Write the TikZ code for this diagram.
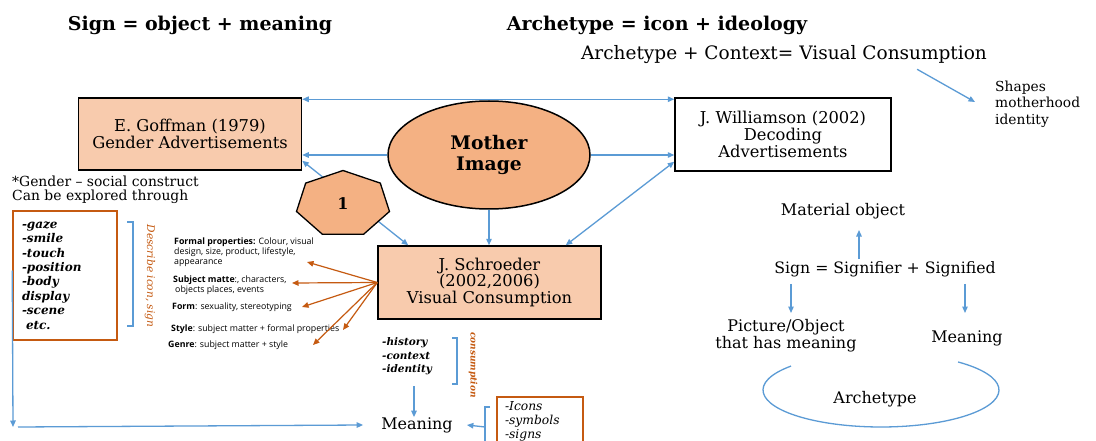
\documentclass[tikz,border=0pt]{standalone}
\usepackage{fontspec}
\setmainfont{DejaVu Serif}
\newfontfamily\notesans{Open Sans}
\usetikzlibrary{arrows.meta,calc,shapes.geometric}
\definecolor{linkblue}{RGB}{91,155,213}
\definecolor{burnt}{RGB}{197,90,17}
\definecolor{peach}{RGB}{248,203,173}
\definecolor{apricot}{RGB}{244,177,131}
\tikzset{
  txt/.style={inner sep=0pt, align=center},
  boxed/.style={draw=black, line width=1.5pt, inner sep=0pt, align=center,
    font=\fontsize{16.3}{16.7}\selectfont},
  barrow/.style={draw=linkblue, line width=1.3pt, -{Triangle[length=6.5pt,width=5.5pt]}},
  barrows/.style={draw=linkblue, line width=1.3pt,
    {Triangle[length=6.5pt,width=5.5pt]}-{Triangle[length=6.5pt,width=5.5pt]}},
  oarrow/.style={draw=burnt, line width=1.2pt, -{Triangle[length=6.5pt,width=5.5pt]}},
  bracketline/.style={draw=linkblue, line width=1.3pt},
  note/.style={inner sep=0pt, align=left, anchor=west,
    font=\notesans\fontsize{8.8}{10}\selectfont},
  plain/.style={inner sep=0pt, align=center, font=\fontsize{16}{17}\selectfont},
}
\begin{document}
\begin{tikzpicture}[x=1pt,y=1pt]
\fill[white] (0,0) rectangle (1096,-441);
\useasboundingbox (0,0) rectangle (1096,-441);

% headings
\node[txt, font=\bfseries\fontsize{19}{22}\selectfont] (title1) at (200,-25) {Sign = object + meaning};
\node[txt, font=\bfseries\fontsize{19}{22}\selectfont] (title2) at (657,-25) {Archetype = icon + ideology};
\node[txt, font=\fontsize{18.5}{22}\selectfont] (formula) at (784,-55) {Archetype + Context= Visual Consumption};
\node[plain, anchor=west, align=left, font=\fontsize{13.8}{16.5}\selectfont] (shapes) at (995,-104) {Shapes\\motherhood\\identity};
\draw[barrow] ([xshift=-70pt,yshift=-5pt]formula.south east) -- ([xshift=-20pt,yshift=2pt]shapes.west);

% main boxes
\node[boxed, fill=peach, minimum width=223pt, minimum height=72pt] (goffman) at (190,-134)
  {E. Goffman (1979)\\Gender Advertisements};
\node[boxed, fill=white, minimum width=216pt, minimum height=73pt] (williamson) at (783,-134.5)
  {J. Williamson (2002)\\Decoding\\Advertisements};
\node[draw=black, line width=1.5pt, ellipse, fill=apricot, minimum width=202pt, minimum height=108pt,
  inner sep=0pt, align=center, font=\bfseries\fontsize{18.7}{21}\selectfont] (mother) at (489,-155) {Mother\\Image};
\node[boxed, fill=peach, minimum width=223pt, minimum height=73pt] (schroeder) at (489.5,-282.5)
  {J. Schroeder\\(2002,2006)\\Visual Consumption};

% links between the boxes
\draw[barrows] ([yshift=-2pt]goffman.north east) -- ([yshift=-2pt]williamson.north west);
\draw[barrow] (mother.west) -- (mother.west -| goffman.east);
\draw[barrow] (mother.east) -- (mother.east -| williamson.west);
\draw[barrows] ([yshift=10pt]goffman.south east) -- ([xshift=31pt]schroeder.north west);
\draw[barrow] (mother.south) -- (mother.south |- schroeder.north);
\draw[barrows] ([yshift=10pt]williamson.south west) -- ([xshift=-36pt]schroeder.north east);

% heptagon marker
\coordinate (hc) at (343,-204);
\draw[fill=apricot, line width=1.3pt] ($(hc)+(90:47.7pt and 33.5pt)$)
  \foreach \k in {1,...,6} { -- ($(hc)+({90+\k*360/7}:47.7pt and 33.5pt)$) } -- cycle;
\node[txt, font=\bfseries\fontsize{16}{18}\selectfont] (hept) at (hc) {1};

% gender column
\node[txt, anchor=west, align=left, font=\fontsize{13.9}{14.5}\selectfont] (gender) at (12,-190)
  {*Gender -- social construct\\Can be explored through};
\node[draw=burnt, line width=1.5pt, text width=86pt, inner xsep=9pt, inner ysep=0pt,
  minimum height=129pt, align=left, font=\bfseries\itshape\fontsize{12}{14.4}\selectfont] (gaze) at (65,-275.5)
  {-gaze\\-smile\\-touch\\-position\\-body\\display\\-scene\\\hspace*{4pt}etc.};
\draw[bracketline] (127,-222) -- (133,-222) -- (133,-326) -- (127,-326);
\node[txt, rotate=-90, text=burnt, font=\itshape\fontsize{10.6}{12}\selectfont] (describe) at (150,-276) {Describe icon, sign};
\coordinate (corner) at (13,-427);
\draw[barrow] ([yshift=5pt]gaze.west) -- (corner);

% notes on visual consumption
\node[note] (formal) at (174,-252) {\textbf{Formal properties:} Colour, visual\\design, size, product, lifestyle,\\appearance};
\node[note] (subject) at (173,-285.5) {\textbf{Subject matte}:, characters,\\\hspace*{2pt}objects places, events};
\node[note] (form) at (172,-307) {\textbf{Form}: sexuality, stereotyping};
\node[note] (style) at (171,-329) {\textbf{Style}: subject matter + formal properties};
\node[note] (genre) at (168,-345) {\textbf{Genre}: subject matter + style};
\coordinate (t1) at (307,-262);
\coordinate (t2) at (292,-283);
\coordinate (t3) at (302,-307);
\coordinate (t4) at (343,-330);
\coordinate (t5) at (313,-345);
\foreach \t in {t1,t2,t3,t4,t5} \draw[oarrow] (schroeder.west) -- (\t);

% consumption and meaning
\node[txt, anchor=west, align=left, font=\bfseries\itshape\fontsize{10.5}{13.5}\selectfont] (hist) at (382,-356.5)
  {-history\\-context\\-identity};
\draw[bracketline] (452,-338) -- (457,-338) -- (457,-384) -- (452,-384);
\node[txt, rotate=-90, text=burnt, font=\bfseries\itshape\fontsize{9}{11}\selectfont] (consump) at (473,-365) {consumption};
\node[txt, font=\fontsize{16}{17}\selectfont] (meaning) at (417,-425) {Meaning};
\coordinate (histfoot) at (414,-386);
\draw[barrow] (histfoot) -- (histfoot |- meaning.north);
\draw[barrow] ([xshift=5pt]corner) -- ([xshift=-18pt]meaning.west);
\node[draw=burnt, line width=1.5pt, text width=70pt, inner xsep=8pt, inner ysep=0pt, minimum height=48pt,
  align=left, font=\itshape\fontsize{12.3}{14}\selectfont] (icons) at (540,-421) {-Icons\\-symbols\\-signs};
\draw[bracketline] (490,-407) -- (485,-407) -- (485,-441);
\coordinate (iconsbr) at (485,-427);
\draw[barrow] (iconsbr) -- ([xshift=14pt]meaning.east);

% sign model
\node[plain] (material) at (843,-211) {Material object};
\node[plain, font=\fontsize{15.7}{17}\selectfont] (sign) at (885,-269) {Sign = Signifier + Signified};
\node[plain] (picture) at (786,-335.5) {Picture/Object\\that has meaning};
\node[plain] (meaning2) at (967,-338) {Meaning};
\node[plain] (archetype) at (875,-399) {Archetype};
\draw[barrow] ([xshift=-26pt,yshift=2pt]sign.north) -- ([xshift=16pt]material.south |- 0,-230);
\draw[barrow] ([xshift=-94pt,yshift=-7pt]sign.south) -- ([xshift=-94pt]sign.south |- 0,-313);
\draw[barrow] ([xshift=80pt,yshift=-7pt]sign.south) -- ([xshift=80pt]sign.south |- 0,-313);
\coordinate (arcc) at (881,-390);
\draw[bracketline] ($(arcc)+(139.7:118pt and 37pt)$) arc[start angle=139.7, end angle=409.2, x radius=118pt, y radius=37pt];
\end{tikzpicture}
\end{document}
